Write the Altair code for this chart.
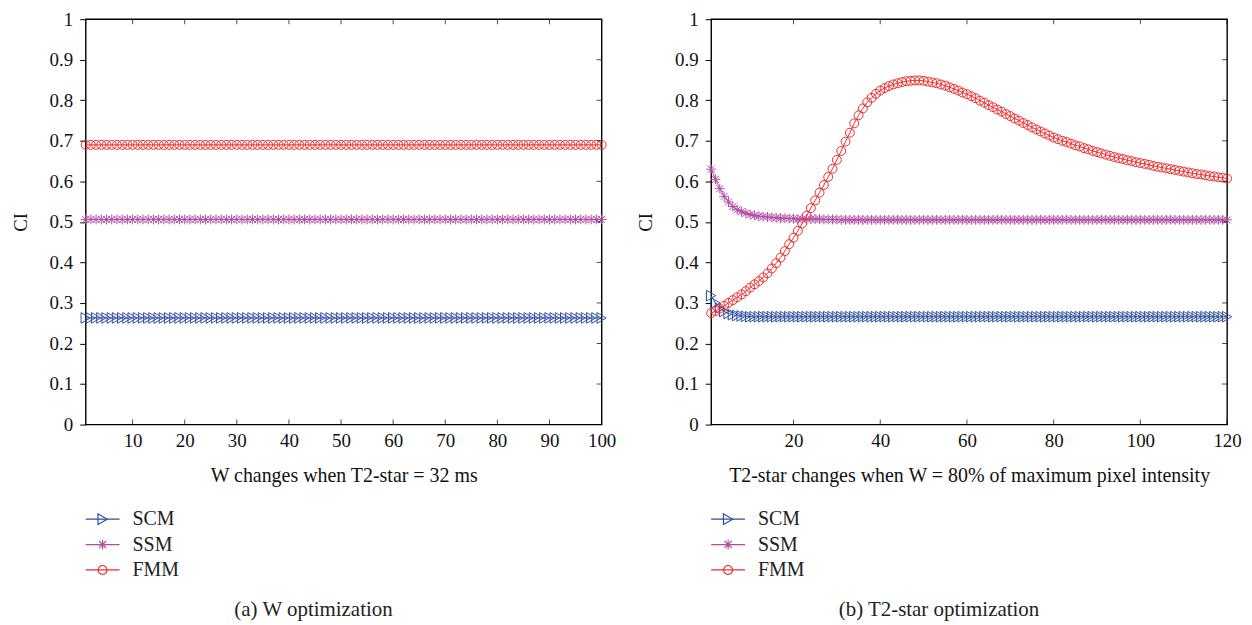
import altair as alt
import pandas as pd

SERIF = "Liberation Serif"
SERIES = ["SCM", "SSM", "FMM"]
COLORS = ["#2d4fa3", "#b24ca6", "#ee2a2a"]
SHAPES = [
    "triangle-right",
    "M-1,0L1,0M0,-1L0,1M-0.72,-0.72L0.72,0.72M-0.72,0.72L0.72,-0.72",
    "circle",
]
SIZES = [115, 80, 135]

Y_TICKS = [0, 0.1, 0.2, 0.3, 0.4, 0.5, 0.6, 0.7, 0.8, 0.9, 1]

# ---------------- panel (a): W optimization ----------------
a_x = list(range(1, 101))
a_scm = [0.263] * 100
a_ssm = [0.506] * 100
a_fmm = [0.690] * 100
a_xticks = [10, 20, 30, 40, 50, 60, 70, 80, 90, 100]

# ---------------- panel (b): T2-star optimization ----------------
b_x = list(range(1, 121))
b_scm = [0.318, 0.300, 0.287, 0.279, 0.274, 0.271, 0.269, 0.268, 0.267, 0.266] + [0.266] * 110
b_ssm = ([0.630, 0.605, 0.582, 0.563, 0.549, 0.538, 0.530, 0.525, 0.521, 0.518,
          0.516, 0.514, 0.513, 0.512, 0.511, 0.510, 0.509, 0.509, 0.508, 0.508,
          0.507, 0.507, 0.507, 0.507, 0.507, 0.507, 0.506, 0.506, 0.506, 0.506]
         + [0.505] * 90)
b_fmm = [
    0.275, 0.280, 0.286, 0.293, 0.300, 0.307, 0.314, 0.321, 0.329, 0.338,
    0.346, 0.354, 0.363, 0.373, 0.385, 0.398, 0.412, 0.428, 0.445, 0.461,
    0.478, 0.496, 0.515, 0.534, 0.553, 0.572, 0.591, 0.611, 0.631, 0.653,
    0.675, 0.698, 0.720, 0.743, 0.763, 0.780, 0.795, 0.806, 0.816, 0.824,
    0.830, 0.835, 0.839, 0.842, 0.845, 0.847, 0.848, 0.849, 0.849, 0.848,
    0.846, 0.844, 0.842, 0.839, 0.836, 0.832, 0.828, 0.824, 0.819, 0.815,
    0.810, 0.805, 0.799, 0.794, 0.788, 0.783, 0.777, 0.772, 0.766, 0.761,
    0.755, 0.750, 0.744, 0.739, 0.733, 0.728, 0.723, 0.718, 0.713, 0.708,
    0.704, 0.700, 0.697, 0.693, 0.689, 0.686, 0.682, 0.679, 0.675, 0.672,
    0.669, 0.666, 0.663, 0.660, 0.657, 0.655, 0.652, 0.650, 0.647, 0.645,
    0.643, 0.641, 0.638, 0.636, 0.634, 0.632, 0.630, 0.628, 0.626, 0.624,
    0.622, 0.620, 0.618, 0.617, 0.615, 0.613, 0.612, 0.610, 0.609, 0.607,
]
b_xticks = [20, 40, 60, 80, 100, 120]

color_enc = alt.Color("series:N", scale=alt.Scale(domain=SERIES, range=COLORS), legend=None)
shape_enc = alt.Shape("series:N", scale=alt.Scale(domain=SERIES, range=SHAPES), legend=None)
size_enc = alt.Size("series:N", scale=alt.Scale(domain=SERIES, range=SIZES), legend=None)


def panel(xs, values, xmax, xticks, xtitle, caption):
    rows = []
    for name, vals in zip(SERIES, values):
        for xv, v in zip(xs, vals):
            rows.append({"series": name, "x": xv, "ci": v})
    df = pd.DataFrame(rows)

    xsc = alt.Scale(domain=[1, xmax], nice=False, zero=False)
    ysc = alt.Scale(domain=[0, 1], nice=False)

    base = alt.Chart(df).encode(
        x=alt.X("x:Q", scale=xsc, axis=alt.Axis(
            values=xticks, title=xtitle, ticks=False, tickSize=0, domain=False,
            labelFlush=False, labelPadding=7, titlePadding=15, titleFontSize=20,
            grid=False)),
        y=alt.Y("ci:Q", scale=ysc, axis=alt.Axis(
            values=Y_TICKS, format="~g", title="CI", tickSize=6, domain=False,
            labelPadding=7, titlePadding=19, grid=False)),
        color=color_enc,
    )
    lines = base.mark_line(strokeWidth=1)
    points = base.mark_point(filled=False, strokeWidth=1, opacity=1).encode(
        shape=shape_enc, size=size_enc)

    xt = pd.DataFrame({"x": xticks})
    yt = pd.DataFrame({"ci": Y_TICKS[1:-1]})
    t_bottom = alt.Chart(xt).mark_tick(orient="vertical", size=5, thickness=1,
                                       yOffset=-2.5, color="black").encode(
        x="x:Q", y=alt.YDatum(0))
    t_top = alt.Chart(xt).mark_tick(orient="vertical", size=5, thickness=1,
                                    yOffset=2.5, color="black").encode(
        x="x:Q", y=alt.YDatum(1))
    t_right = alt.Chart(yt).mark_tick(orient="horizontal", size=5, thickness=1,
                                      xOffset=-2.5, color="black").encode(
        y="ci:Q", x=alt.XDatum(xmax))

    plot = alt.layer(lines, points, t_bottom, t_top, t_right).properties(
        width=518, height=407,
        view=alt.ViewBackground(stroke="black", strokeWidth=1.4),
    )

    ldf = pd.DataFrame({"series": SERIES})
    ly = alt.Y("series:N", scale=alt.Scale(domain=SERIES, type="point", padding=0), axis=None)
    lxs = alt.Scale(domain=[0, 1])
    lrule = alt.Chart(ldf).mark_rule(strokeWidth=1.2).encode(
        x=alt.XDatum(0, scale=lxs, axis=None), x2=alt.X2Datum(1), y=ly, color=color_enc)
    lpts = alt.Chart(ldf).mark_point(filled=False, strokeWidth=1.2, opacity=1).encode(
        x=alt.XDatum(0.5, scale=lxs, axis=None), y=ly, color=color_enc,
        shape=shape_enc, size=size_enc)
    ltxt = alt.Chart(ldf).mark_text(align="left", baseline="middle", dx=13,
                                    font=SERIF, fontSize=20, color="#222").encode(
        x=alt.XDatum(1, scale=lxs, axis=None), y=ly, text="series:N")
    legend = alt.layer(lrule, lpts, ltxt).properties(
        width=34, height=51, view=alt.ViewBackground(stroke=None))

    return alt.vconcat(
        plot, legend, spacing=95, bounds="flush",
        title=alt.TitleParams(caption, orient="bottom", anchor="middle", frame="bounds",
                              offset=19, font=SERIF, fontSize=21, fontWeight="normal",
                              color="#222"),
    )


left = panel(a_x, [a_scm, a_ssm, a_fmm], 100, a_xticks,
             "W changes when T2-star = 32 ms", "(a)  W optimization")
right = panel(b_x, [b_scm, b_ssm, b_fmm], 120, b_xticks,
              "T2-star changes when W = 80% of maximum pixel intensity",
              "(b)  T2-star optimization")

chart = alt.hconcat(left, right, spacing=19).properties(
    padding={"left": 2, "top": 0, "right": 2, "bottom": 2}
).configure_view(stroke=None).configure_axis(
    labelFont=SERIF, labelFontSize=19, labelColor="#111",
    titleFont=SERIF, titleFontSize=19, titleColor="#111", titleFontWeight="normal",
    tickColor="black", tickWidth=1,
)

chart.save("out.html", embed_options={"renderer": "svg", "actions": False})
